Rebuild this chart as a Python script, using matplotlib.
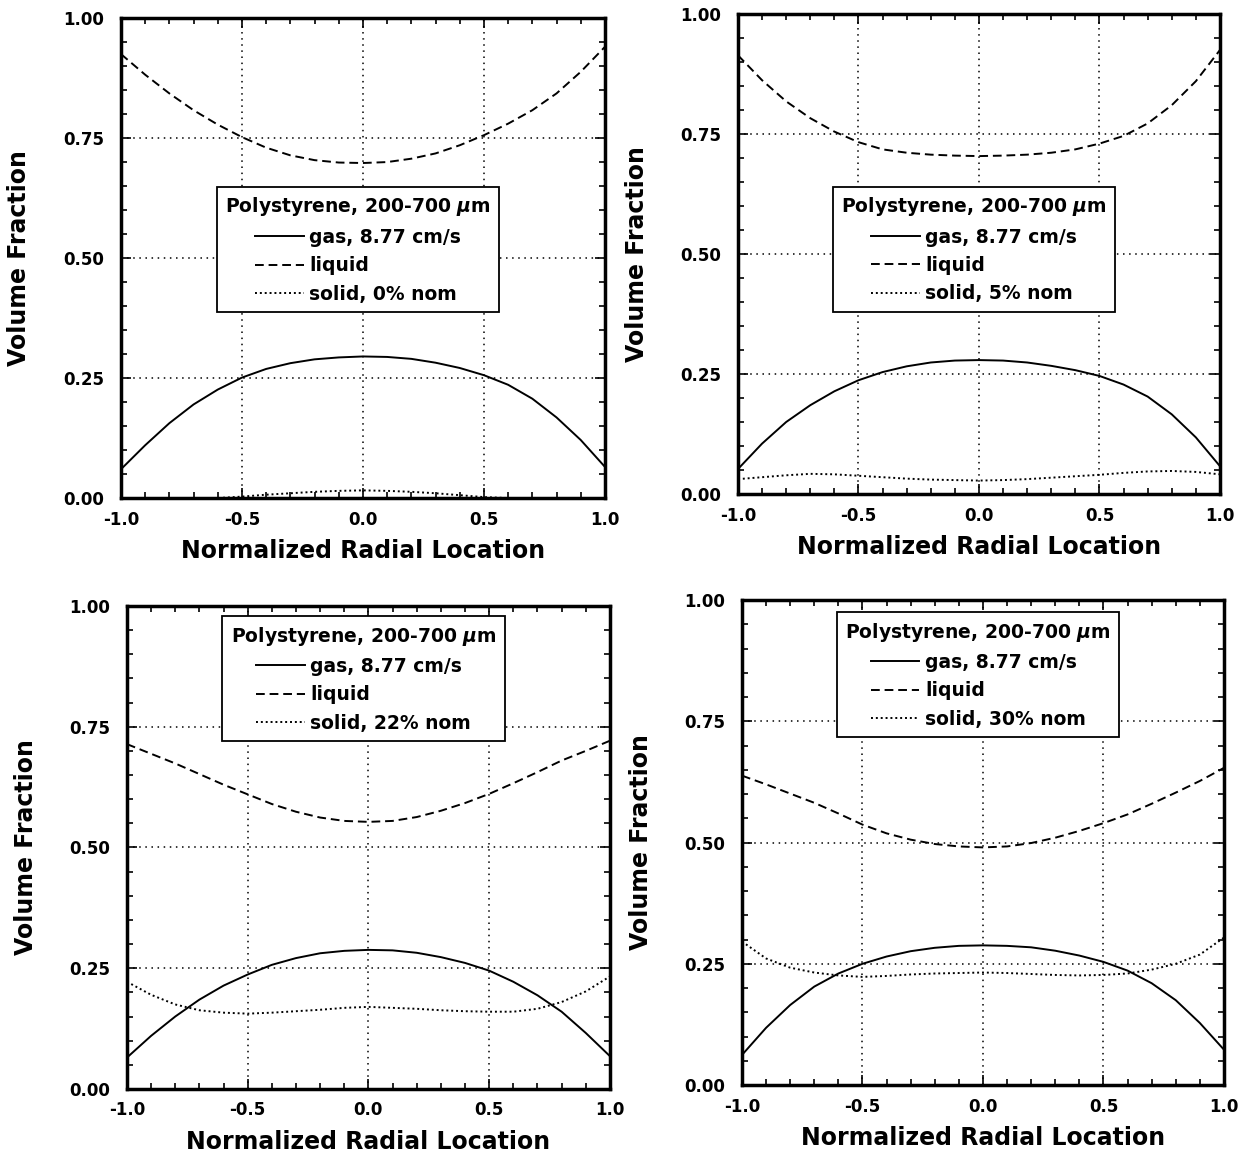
import numpy as np
import matplotlib
matplotlib.use("Agg")
import matplotlib.pyplot as plt
from matplotlib.ticker import MultipleLocator, FormatStrFormatter

plt.rcParams['font.family'] = ['DejaVu Sans']
plt.rcParams['font.weight'] = 'bold'
plt.rcParams['mathtext.fontset'] = 'custom'
plt.rcParams['mathtext.it'] = 'DejaVu Sans:italic:bold'
plt.rcParams['mathtext.rm'] = 'DejaVu Sans:bold'

# Normalized radial location (shared by all four panels)
r = [-1.0, -0.9, -0.8, -0.7, -0.6, -0.5, -0.4, -0.3, -0.2, -0.1, 0.0,
     0.1, 0.2, 0.3, 0.4, 0.5, 0.6, 0.7, 0.8, 0.9, 1.0]

# 0% nominal solids
gas_0 = [0.060, 0.110, 0.156, 0.195, 0.226, 0.251, 0.269, 0.281, 0.289, 0.293, 0.295,
         0.294, 0.290, 0.282, 0.271, 0.256, 0.236, 0.207, 0.168, 0.121, 0.065]
liq_0 = [0.925, 0.882, 0.843, 0.808, 0.778, 0.752, 0.730, 0.714, 0.704, 0.699, 0.698,
         0.700, 0.707, 0.718, 0.735, 0.756, 0.780, 0.808, 0.843, 0.888, 0.940]
sol_0 = [0.0, 0.0, 0.0, 0.0, 0.0, 0.003, 0.007, 0.010, 0.013, 0.015, 0.016,
         0.015, 0.013, 0.010, 0.006, 0.002, 0.0, 0.0, 0.0, 0.0, 0.0]

# 5% nominal solids
gas_5 = [0.052, 0.105, 0.150, 0.185, 0.214, 0.237, 0.254, 0.266, 0.274, 0.278, 0.279,
         0.278, 0.274, 0.267, 0.258, 0.246, 0.228, 0.203, 0.166, 0.118, 0.058]
liq_5 = [0.914, 0.862, 0.818, 0.783, 0.755, 0.733, 0.718, 0.711, 0.707, 0.705, 0.704,
         0.705, 0.707, 0.711, 0.718, 0.730, 0.746, 0.772, 0.810, 0.860, 0.925]
sol_5 = [0.031, 0.035, 0.039, 0.042, 0.041, 0.038, 0.035, 0.032, 0.030, 0.029, 0.028,
         0.029, 0.031, 0.034, 0.037, 0.040, 0.044, 0.047, 0.048, 0.046, 0.041]

# 22% nominal solids
gas_22 = [0.065, 0.110, 0.150, 0.185, 0.214, 0.237, 0.257, 0.271, 0.281, 0.286, 0.288,
          0.287, 0.282, 0.273, 0.261, 0.245, 0.222, 0.194, 0.160, 0.116, 0.068]
liq_22 = [0.714, 0.694, 0.674, 0.652, 0.630, 0.610, 0.590, 0.574, 0.562, 0.555, 0.553,
          0.555, 0.563, 0.576, 0.592, 0.611, 0.633, 0.656, 0.680, 0.700, 0.721]
sol_22 = [0.222, 0.195, 0.175, 0.163, 0.158, 0.156, 0.158, 0.161, 0.164, 0.168, 0.170,
          0.168, 0.166, 0.163, 0.161, 0.160, 0.160, 0.166, 0.180, 0.202, 0.233]

# 30% nominal solids
gas_30 = [0.062, 0.118, 0.165, 0.203, 0.230, 0.250, 0.265, 0.276, 0.283, 0.287, 0.288,
          0.287, 0.284, 0.277, 0.267, 0.254, 0.236, 0.210, 0.175, 0.128, 0.073]
liq_30 = [0.638, 0.620, 0.601, 0.582, 0.560, 0.537, 0.519, 0.506, 0.497, 0.492, 0.490,
          0.492, 0.499, 0.510, 0.524, 0.540, 0.558, 0.580, 0.603, 0.627, 0.654]
sol_30 = [0.296, 0.261, 0.242, 0.232, 0.226, 0.223, 0.225, 0.228, 0.230, 0.231, 0.232,
          0.231, 0.229, 0.227, 0.226, 0.227, 0.230, 0.238, 0.250, 0.269, 0.304]

solid_labels = ['solid, 0% nom', 'solid, 5% nom', 'solid, 22% nom', 'solid, 30% nom']
legend_title = r'Polystyrene, 200-700 $\mu$m'

# panel placement in figure fraction and legend anchor (axes fraction)
panels = [
    ([0.0970, 0.5699, 0.3881, 0.4145], gas_0, liq_0, sol_0, (0.198, 0.648)),
    ([0.5918, 0.5734, 0.3865, 0.4145], gas_5, liq_5, sol_5, (0.197, 0.640)),
    ([0.1018, 0.0596, 0.3873, 0.4171], gas_22, liq_22, sol_22, (0.197, 0.979)),
    ([0.5950, 0.0630, 0.3865, 0.4188], gas_30, liq_30, sol_30, (0.197, 0.975)),
]

fig = plt.figure(figsize=(12.47, 11.58), dpi=100)

for i, (pos, gas, liq, sol, anchor) in enumerate(panels):
    ax = fig.add_axes(pos)
    ax.plot(r, gas, color='black', lw=1.4, ls='-', label='gas, 8.77 cm/s')
    ax.plot(r, liq, color='black', lw=1.4, ls=(0, (4.5, 2.5)), label='liquid')
    ax.plot(r, sol, color='black', lw=1.4, ls=(0, (1, 1.5)), label=solid_labels[i])

    ax.set_xlim(-1, 1)
    ax.set_ylim(0, 1)
    ax.xaxis.set_major_locator(MultipleLocator(0.5))
    ax.xaxis.set_minor_locator(MultipleLocator(0.1))
    ax.yaxis.set_major_locator(MultipleLocator(0.25))
    ax.yaxis.set_minor_locator(MultipleLocator(0.05))
    ax.xaxis.set_major_formatter(FormatStrFormatter('%.1f'))
    ax.yaxis.set_major_formatter(FormatStrFormatter('%.2f'))
    ax.tick_params(which='both', direction='in', top=True, right=True, width=1.2)
    ax.tick_params(which='major', length=7)
    ax.tick_params(which='minor', length=4)
    ax.tick_params(axis='y', pad=12, labelsize=12)
    ax.tick_params(axis='x', pad=9, labelsize=12)
    for s in ax.spines.values():
        s.set_linewidth(2.5)

    ax.grid(True, which='major', color='black', lw=1.1, ls=(0, (1, 3)))

    ax.set_ylabel('Volume Fraction', fontsize=17, fontweight='bold')
    ax.set_xlabel('Normalized Radial Location', fontsize=17, fontweight='bold')
    ax.yaxis.set_label_coords(-0.185, 0.5)
    ax.xaxis.set_label_coords(0.5, -0.085)

    leg = ax.legend(title=legend_title, loc='upper left', bbox_to_anchor=anchor,
                    borderaxespad=0, fontsize=13.5, title_fontsize=13.5,
                    handlelength=2.6, handletextpad=0.3, labelspacing=0.5,
                    borderpad=0.45, fancybox=False, framealpha=1, edgecolor='black')
    leg.get_frame().set_linewidth(1.3)
    leg.set_zorder(5)

fig.savefig('out.png', dpi=100)
